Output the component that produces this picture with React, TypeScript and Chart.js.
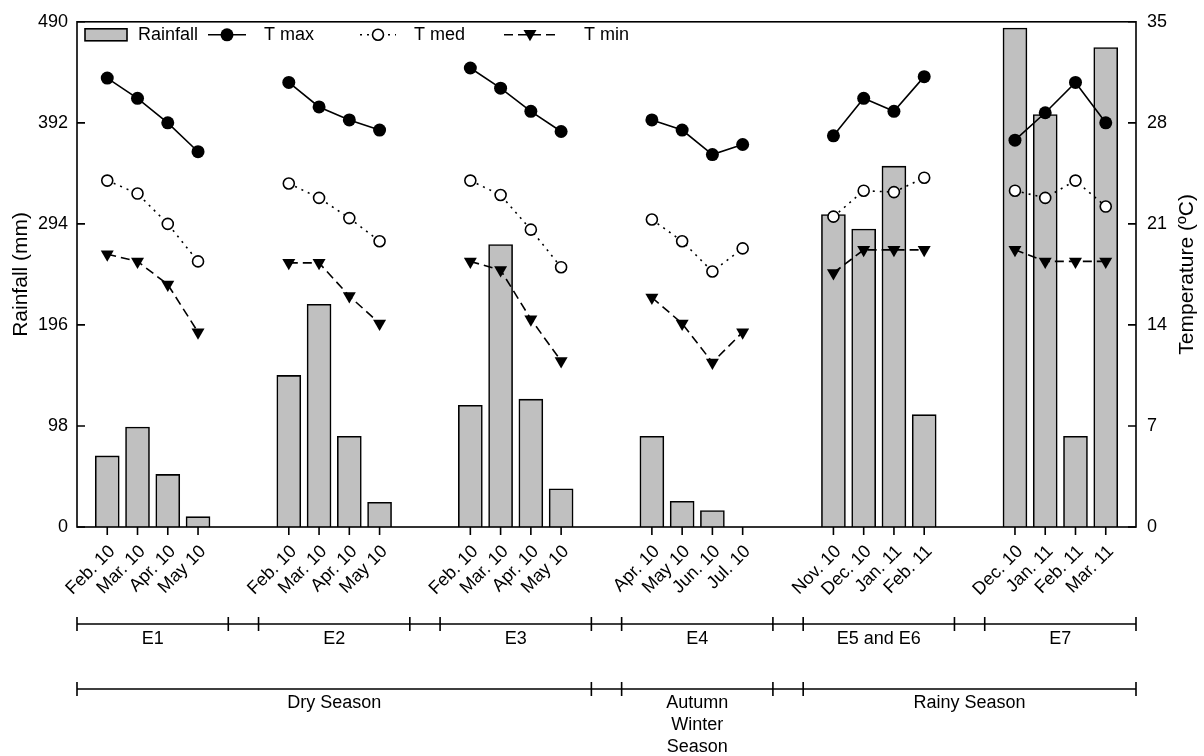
import React, { useEffect, useRef } from 'react';
import { Chart, registerables } from 'chart.js';

Chart.register(...registerables);

// ---------- data ----------
const monthLabels: string[] = [
  '',
  'Feb. 10', 'Mar. 10', 'Apr. 10', 'May 10', '', '',
  'Feb. 10', 'Mar. 10', 'Apr. 10', 'May 10', '', '',
  'Feb. 10', 'Mar. 10', 'Apr. 10', 'May 10', '', '',
  'Apr. 10', 'May 10', 'Jun. 10', 'Jul. 10', '', '',
  'Nov. 10', 'Dec. 10', 'Jan. 11', 'Feb. 11', '', '',
  'Dec. 10', 'Jan. 11', 'Feb. 11', 'Mar. 11',
  '',
];

const rainfall: (number | null)[] = [
  null,
  69, 97, 51, 10, null, null,
  147, 216, 88, 24, null, null,
  118, 274, 124, 37, null, null,
  88, 25, 16, 0, null, null,
  303, 289, 350, 109, null, null,
  484, 400, 88, 465,
  null,
];

const tMax: (number | null)[] = [
  null,
  31.1, 29.7, 28.0, 26.0, null, null,
  30.8, 29.1, 28.2, 27.5, null, null,
  31.8, 30.4, 28.8, 27.4, null, null,
  28.2, 27.5, 25.8, 26.5, null, null,
  27.1, 29.7, 28.8, 31.2, null, null,
  26.8, 28.7, 30.8, 28.0,
  null,
];

const tMed: (number | null)[] = [
  null,
  24.0, 23.1, 21.0, 18.4, null, null,
  23.8, 22.8, 21.4, 19.8, null, null,
  24.0, 23.0, 20.6, 18.0, null, null,
  21.3, 19.8, 17.7, 19.3, null, null,
  21.5, 23.3, 23.2, 24.2, null, null,
  23.3, 22.8, 24.0, 22.2,
  null,
];

const tMin: (number | null)[] = [
  null,
  18.9, 18.4, 16.8, 13.5, null, null,
  18.3, 18.3, 16.0, 14.1, null, null,
  18.4, 17.8, 14.4, 11.5, null, null,
  15.9, 14.1, 11.4, 13.5, null, null,
  17.6, 19.2, 19.2, 19.2, null, null,
  19.2, 18.4, 18.4, 18.4,
  null,
];

const rainTicks = [0, 98, 196, 294, 392, 490];
const tempTicks = [0, 7, 14, 21, 28, 35];

const experimentNames = ['E1', 'E2', 'E3', 'E4', 'E5 and E6', 'E7'];
const seasonNames = [['Dry Season'], ['Autumn', 'Winter', 'Season'], ['Rainy Season']];
const seasonGroups = [[0, 2], [3, 3], [4, 5]]; // first / last experiment group in each season

const FONT = "'Liberation Sans', Arial, Helvetica, sans-serif";

// runs of non-empty labels -> experiment groups
function groupRuns(labels: string[]): [number, number][] {
  const runs: [number, number][] = [];
  let start = -1;
  labels.forEach((l, i) => {
    if (l && start < 0) start = i;
    if (!l && start >= 0) {
      runs.push([start, i - 1]);
      start = -1;
    }
  });
  if (start >= 0) runs.push([start, labels.length - 1]);
  return runs;
}

function drawTriangleDown(ctx: CanvasRenderingContext2D, x: number, y: number, r: number) {
  ctx.beginPath();
  ctx.moveTo(x, y + r);
  ctx.lineTo(x - r * Math.sin(Math.PI / 3), y - r / 2);
  ctx.lineTo(x + r * Math.sin(Math.PI / 3), y - r / 2);
  ctx.closePath();
  ctx.fill();
}

const decorPlugin = {
  id: 'decor',
  afterDraw(chart: any) {
    const ctx: CanvasRenderingContext2D = chart.ctx;
    const { left, right, top, bottom } = chart.chartArea;
    const xs = chart.scales.x;
    const ys = chart.scales.y;
    const ys1 = chart.scales.y1;
    ctx.save();
    ctx.strokeStyle = '#000';
    ctx.fillStyle = '#000';
    ctx.lineWidth = 1.6;
    ctx.setLineDash([]);

    // frame
    ctx.strokeRect(left, top, right - left, bottom - top);

    // inward y ticks
    ctx.beginPath();
    rainTicks.forEach((v) => {
      const y = ys.getPixelForValue(v);
      ctx.moveTo(left, y);
      ctx.lineTo(left + 8, y);
    });
    tempTicks.forEach((v) => {
      const y = ys1.getPixelForValue(v);
      ctx.moveTo(right, y);
      ctx.lineTo(right - 8, y);
    });
    // outward x ticks
    monthLabels.forEach((l, i) => {
      if (!l) return;
      const x = xs.getPixelForValue(i);
      ctx.moveTo(x, bottom);
      ctx.lineTo(x, bottom + 8);
    });
    ctx.stroke();

    // axis titles
    ctx.font = `21px ${FONT}`;
    ctx.textAlign = 'center';
    ctx.textBaseline = 'middle';
    const midY = (top + bottom) / 2;
    ctx.save();
    ctx.translate(21, midY);
    ctx.rotate(-Math.PI / 2);
    ctx.fillText('Rainfall (mm)', 0, 0);
    ctx.restore();
    ctx.save();
    ctx.translate(1187, midY);
    ctx.rotate(-Math.PI / 2);
    ctx.fillText('Temperature (ºC)', 0, 0);
    ctx.restore();

    // experiment brackets
    const runs = groupRuns(monthLabels);
    const spans = runs.map(([s, e]) => [xs.getPixelForValue(s - 1), xs.getPixelForValue(e + 1)]);
    const rowY1 = 624;
    const rowY2 = 689;
    const tick = 7;
    ctx.beginPath();
    ctx.moveTo(spans[0][0], rowY1);
    ctx.lineTo(spans[spans.length - 1][1], rowY1);
    spans.forEach(([a, b]) => {
      ctx.moveTo(a, rowY1 - tick);
      ctx.lineTo(a, rowY1 + tick);
      ctx.moveTo(b, rowY1 - tick);
      ctx.lineTo(b, rowY1 + tick);
    });
    // season brackets
    ctx.moveTo(spans[0][0], rowY2);
    ctx.lineTo(spans[spans.length - 1][1], rowY2);
    seasonGroups.forEach(([g0, g1]) => {
      const a = spans[g0][0];
      const b = spans[g1][1];
      ctx.moveTo(a, rowY2 - tick);
      ctx.lineTo(a, rowY2 + tick);
      ctx.moveTo(b, rowY2 - tick);
      ctx.lineTo(b, rowY2 + tick);
    });
    ctx.stroke();

    ctx.font = `18px ${FONT}`;
    ctx.textAlign = 'center';
    ctx.textBaseline = 'middle';
    spans.forEach(([a, b], i) => {
      ctx.fillText(experimentNames[i], (a + b) / 2, rowY1 + 15);
    });
    seasonGroups.forEach(([g0, g1], i) => {
      const cx = (spans[g0][0] + spans[g1][1]) / 2;
      seasonNames[i].forEach((line, j) => {
        ctx.fillText(line, cx, rowY2 + 14 + j * 22);
      });
    });

    // legend
    const ly = top + 13;
    ctx.font = `18px ${FONT}`;
    ctx.textAlign = 'left';
    ctx.lineWidth = 1.6;
    ctx.fillStyle = '#c0c0c0';
    ctx.fillRect(85, ly - 6, 42, 12);
    ctx.strokeRect(85, ly - 6, 42, 12);
    ctx.fillStyle = '#000';
    ctx.fillText('Rainfall', 138, ly);

    ctx.beginPath();
    ctx.moveTo(208, ly);
    ctx.lineTo(246, ly);
    ctx.stroke();
    ctx.beginPath();
    ctx.arc(227, ly, 6.5, 0, Math.PI * 2);
    ctx.fill();
    ctx.fillText('T max', 264, ly);

    ctx.setLineDash([2, 5]);
    ctx.beginPath();
    ctx.moveTo(360, ly);
    ctx.lineTo(396, ly);
    ctx.stroke();
    ctx.setLineDash([]);
    ctx.beginPath();
    ctx.arc(378, ly, 5.5, 0, Math.PI * 2);
    ctx.fillStyle = '#fff';
    ctx.fill();
    ctx.stroke();
    ctx.fillStyle = '#000';
    ctx.fillText('T med', 414, ly);

    ctx.setLineDash([9, 5]);
    ctx.beginPath();
    ctx.moveTo(504, ly);
    ctx.lineTo(556, ly);
    ctx.stroke();
    ctx.setLineDash([]);
    drawTriangleDown(ctx, 530, ly - 1, 7.5);
    ctx.fillText('T min', 584, ly);

    ctx.restore();
  },
};

export default function App() {
  const ref = useRef<HTMLCanvasElement | null>(null);

  useEffect(() => {
    if (!ref.current) return;
    const chart = new Chart(ref.current, {
      type: 'bar',
      data: {
        labels: monthLabels,
        datasets: [
          {
            type: 'line',
            label: 'T max',
            data: tMax,
            yAxisID: 'y1',
            borderColor: '#000',
            borderWidth: 1.6,
            pointStyle: 'circle',
            pointRadius: 6.5,
            pointBackgroundColor: '#000',
            pointBorderColor: '#000',
            pointBorderWidth: 0,
            tension: 0,
            spanGaps: false,
            order: 1,
          } as any,
          {
            type: 'line',
            label: 'T med',
            data: tMed,
            yAxisID: 'y1',
            borderColor: '#000',
            borderWidth: 1.6,
            borderDash: [2, 5],
            pointStyle: 'circle',
            pointRadius: 5.5,
            pointBackgroundColor: '#fff',
            pointBorderColor: '#000',
            pointBorderWidth: 1.6,
            tension: 0,
            spanGaps: false,
            order: 2,
          } as any,
          {
            type: 'line',
            label: 'T min',
            data: tMin,
            yAxisID: 'y1',
            borderColor: '#000',
            borderWidth: 1.6,
            borderDash: [9, 5],
            pointStyle: 'triangle',
            rotation: 180,
            pointRadius: 7.5,
            pointBackgroundColor: '#000',
            pointBorderColor: '#000',
            pointBorderWidth: 0,
            tension: 0,
            spanGaps: false,
            order: 3,
          } as any,
          {
            type: 'bar',
            label: 'Rainfall',
            data: rainfall,
            yAxisID: 'y',
            backgroundColor: '#c0c0c0',
            borderColor: '#000',
            borderWidth: 1.6,
            borderSkipped: 'bottom',
            barThickness: 24,
            order: 10,
          } as any,
        ],
      },
      options: {
        animation: false,
        responsive: false,
        maintainAspectRatio: false,
        layout: { padding: { top: 15, left: 0, right: 0, bottom: 0 } },
        plugins: {
          legend: { display: false },
          tooltip: { enabled: false },
          title: { display: false },
        },
        scales: {
          x: {
            type: 'category',
            offset: false,
            grid: { display: false, drawTicks: false },
            border: { display: false },
            ticks: {
              autoSkip: false,
              maxRotation: 45,
              minRotation: 45,
              padding: 14,
              labelOffset: 5,
              color: '#000',
              font: { family: FONT, size: 18 },
            },
            afterFit: (s: any) => {
              s.height = 229;
            },
          },
          y: {
            type: 'linear',
            position: 'left',
            min: 0,
            max: 490,
            grid: { display: false, drawTicks: false },
            border: { display: false },
            ticks: {
              stepSize: 98,
              padding: 9,
              color: '#000',
              font: { family: FONT, size: 18 },
            },
            afterFit: (s: any) => {
              s.width = 77;
            },
          },
          y1: {
            type: 'linear',
            position: 'right',
            min: 0,
            max: 35,
            grid: { display: false, drawTicks: false },
            border: { display: false },
            ticks: {
              stepSize: 7,
              padding: 11,
              color: '#000',
              font: { family: FONT, size: 18 },
            },
            afterFit: (s: any) => {
              s.width = 68;
            },
          },
        },
      } as any,
      plugins: [decorPlugin],
    });
    return () => chart.destroy();
  }, []);

  return (
    <div style={{ position: 'fixed', left: 0, top: 0, width: 1204, height: 756, background: '#fff' }}>
      <canvas ref={ref} width={1204} height={756} style={{ display: 'block' }} />
    </div>
  );
}
